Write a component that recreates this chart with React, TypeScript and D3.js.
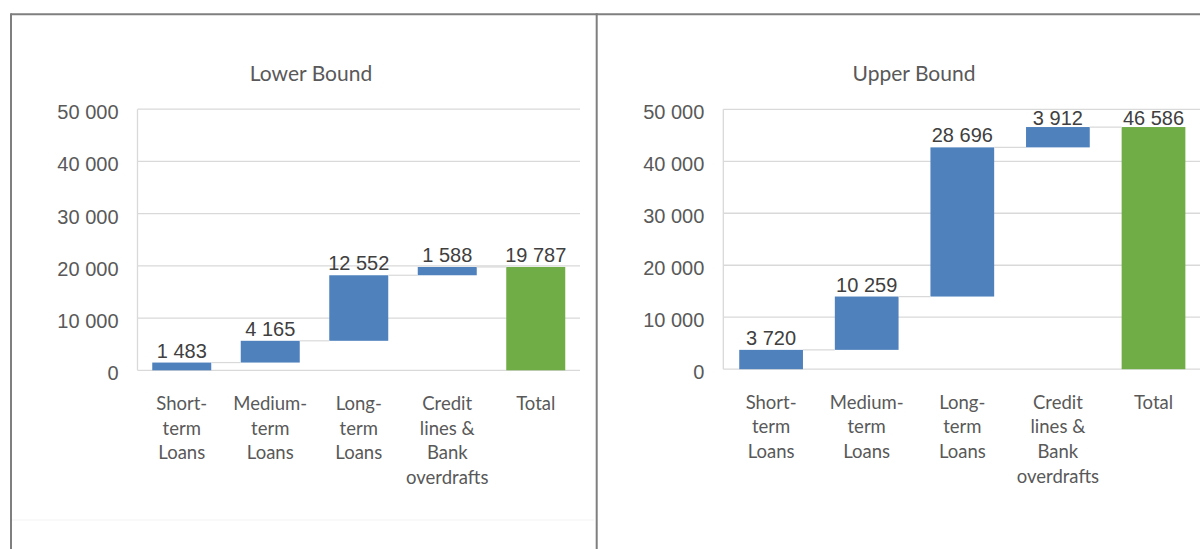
import React from "react";
import * as d3 from "d3";

const categoryLines: string[][] = [
  ["Short-", "term", "Loans"],
  ["Medium-", "term", "Loans"],
  ["Long-", "term", "Loans"],
  ["Credit", "lines &", "Bank", "overdrafts"],
  ["Total"],
];
const categories = ["Short-term Loans", "Medium-term Loans", "Long-term Loans", "Credit lines & Bank overdrafts", "Total"];

const lowerValues = [1483, 4165, 12552, 1588];
const lowerTotal = 19787;
const upperValues = [3720, 10259, 28696, 3912];
const upperTotal = 46586;

const yTicks = [0, 10000, 20000, 30000, 40000, 50000];

const locale = d3.formatLocale({ decimal: ".", thousands: " ", grouping: [3], currency: ["", ""] });
const fmt = locale.format(",");

const BLUE = "#4f81bd";
const GREEN = "#70ad47";
const GRID = "#d9d9d9";

interface PanelProps {
  title: string;
  titleX: number;
  values: number[];
  total: number;
  left: number;
  right: number;
  top: number;
  bottom: number;
  clipRight: number;
}

function Panel({ title, titleX, values, total, left, right, top, bottom, clipRight }: PanelProps) {
  const x = d3.scaleBand<string>().domain(categories).range([left, right]).paddingInner(1 / 3).paddingOuter(1 / 6);
  const y = d3.scaleLinear().domain([0, 50000]).range([bottom, top]);
  const bw = x.bandwidth();

  const bars: { cat: string; y0: number; y1: number; v: number; total: boolean }[] = [];
  let cum = 0;
  values.forEach((v, i) => {
    bars.push({ cat: categories[i], y0: cum, y1: cum + v, v, total: false });
    cum += v;
  });
  bars.push({ cat: categories[4], y0: 0, y1: total, v: total, total: true });

  const gridRight = Math.min(right, clipRight);

  return (
    <g>
      <text x={titleX} y={81} textAnchor="middle" fontFamily="Lato, 'Open Sans', sans-serif" fontSize={21} fill="#595959">
        {title}
      </text>
      {yTicks.map((t) => (
        <g key={t}>
          <line x1={left} x2={gridRight} y1={y(t)} y2={y(t)} stroke={GRID} strokeWidth={1.3} />
          <text x={left - 19} y={y(t) + 10} textAnchor="end" fontFamily="'Liberation Sans', Arial, sans-serif" fontSize={20} fill="#595959">
            {fmt(t)}
          </text>
        </g>
      ))}
      <line x1={left} x2={left} y1={y(50000)} y2={y(0)} stroke={GRID} strokeWidth={1.3} />
      {bars.map((b, i) => {
        const bx = x(b.cat)!;
        const yt = y(Math.max(b.y0, b.y1));
        const yb = y(Math.min(b.y0, b.y1));
        return <rect key={"r" + i} x={bx} y={yt} width={bw} height={yb - yt} fill={b.total ? GREEN : BLUE} />;
      })}
      {bars.slice(0, -1).map((b, i) => {
        const x1 = x(b.cat)! + bw;
        const x2 = x(bars[i + 1].cat)!;
        const level = b.y1;
        return <line key={"c" + i} x1={x1} x2={x2} y1={y(level)} y2={y(level)} stroke={GRID} strokeWidth={1.2} />;
      })}
      {bars.map((b, i) => {
        const cx = x(b.cat)! + bw / 2;
        const yt = y(Math.max(b.y0, b.y1));
        const by = Math.max(yt - 5, top + 16);
        return (
          <text key={"l" + i} x={cx} y={by} textAnchor="middle" fontFamily="'Liberation Sans', Arial, sans-serif" fontSize={20} fill="#404040">
            {fmt(b.v)}
          </text>
        );
      })}
      {categoryLines.map((lines, i) => {
        const cx = x(categories[i])! + bw / 2;
        return (
          <text key={"k" + i} textAnchor="middle" fontFamily="Lato, 'Open Sans', sans-serif" fontSize={18.5} fill="#595959">
            {lines.map((ln, j) => (
              <tspan key={j} x={cx} y={bottom + 39.5 + j * 24.7}>
                {ln}
              </tspan>
            ))}
          </text>
        );
      })}
    </g>
  );
}

export default function App() {
  const W = 1200;
  const H = 549;
  return (
    <div style={{ position: "absolute", left: 0, top: 0, width: W, height: H, overflow: "hidden", background: "#fff" }}>
      <svg width={W} height={H} viewBox={`0 0 ${W} ${H}`} style={{ display: "block" }}>
        <rect x={0} y={0} width={W} height={H} fill="#fff" />
        <line x1={12} x2={594} y1={520} y2={520} stroke="#f3f3f3" strokeWidth={1} />
        <Panel title="Lower Bound" titleX={311} values={lowerValues} total={lowerTotal} left={137.5} right={580} top={109.2} bottom={370.3} clipRight={W} />
        <Panel title="Upper Bound" titleX={914} values={upperValues} total={upperTotal} left={723.3} right={1201.3} top={109.3} bottom={369.2} clipRight={W} />
        <line x1={11} x2={W} y1={14.3} y2={14.3} stroke="#7f7f7f" strokeWidth={2} />
        <line x1={11} x2={11} y1={13.3} y2={H} stroke="#7f7f7f" strokeWidth={2} />
        <line x1={596.7} x2={596.7} y1={13.3} y2={H} stroke="#7f7f7f" strokeWidth={2} />
      </svg>
    </div>
  );
}
